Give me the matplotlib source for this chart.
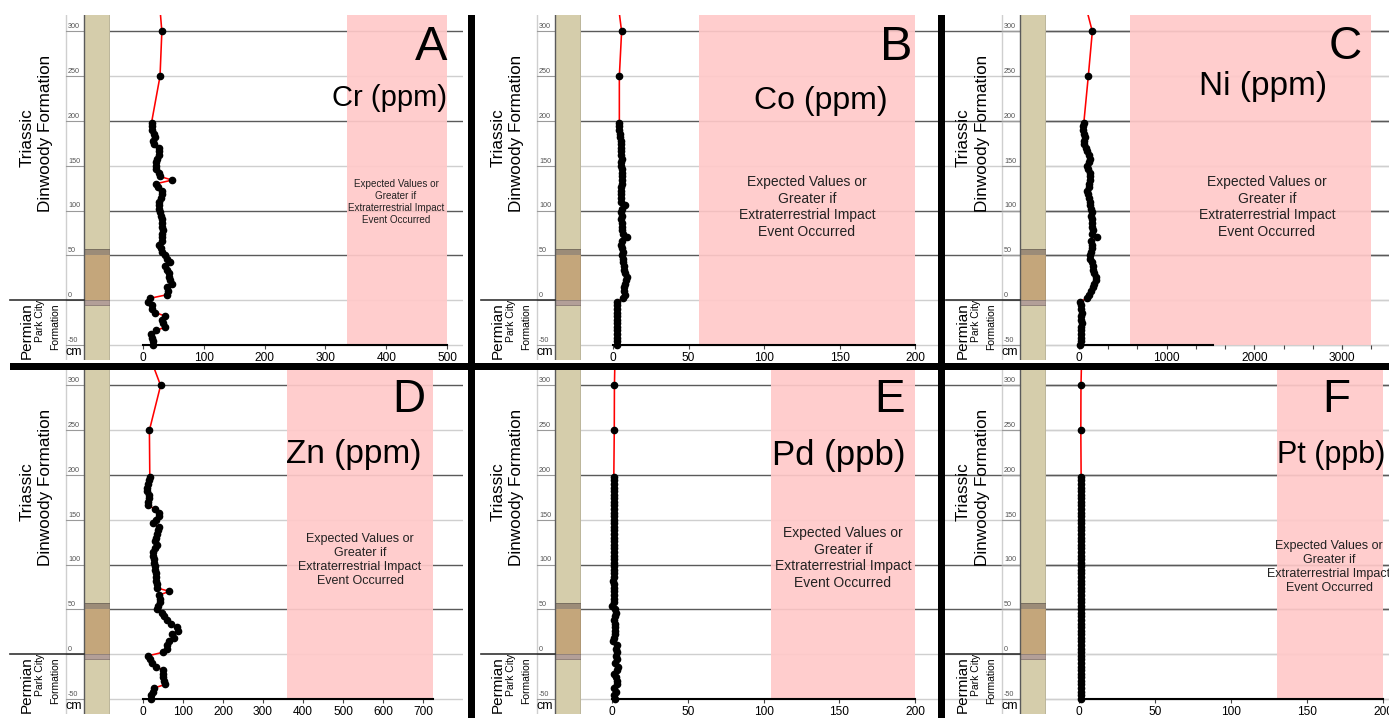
import matplotlib.pyplot as plt
from matplotlib.patches import Rectangle

plt.rcParams['font.family'] = ['Liberation Sans', 'DejaVu Sans']

# sample depths (cm above the Permian/Triassic contact)
depth_cm = [-50, -46, -42, -38, -34, -30, -26, -22, -18, -14, -10, -6, -2,
            2, 6, 10, 14, 18, 22, 26, 30, 34, 38, 42, 46, 50,
            54, 58, 62, 66, 70, 74, 78, 82, 86, 90, 94, 98, 102,
            106, 110, 114, 118, 122, 126, 130, 134, 138, 142, 146, 150, 154,
            158, 162, 166, 170, 174, 178, 182, 186, 190, 194, 198,
            250, 300, 350]

cr_ppm = [16, 17, 14, 13, 22, 37, 33, 31, 37, 20, 15, 14, 9,
          12, 40, 41, 40, 47, 45, 43, 42, 40, 37, 44, 39, 36,
          32, 29, 27, 31, 31, 32, 33, 32, 32, 31, 29, 28, 26,
          26, 27, 29, 31, 32, 24, 22, 48, 28, 27, 21, 21, 22,
          23, 26, 26, 27, 18, 17, 20, 18, 15, 14, 14,
          28, 31, 25]
co_ppm = [2.6, 2.5, 2.8, 2.7, 2.5, 2.7, 2.8, 2.6, 2.7, 2.5, 2.6, 2.4, 2.8,
          6.5, 8, 7, 7.5, 8, 8.5, 9, 8, 7.5, 7, 6.5, 6.5, 6,
          6.5, 6, 5.5, 6, 9, 6.5, 6, 5.8, 6, 5.5, 6, 5.5, 6,
          8, 5.5, 5, 5.2, 5.5, 5.5, 5.8, 6, 6, 6, 5.8, 5, 5.5,
          5.8, 5.5, 5.5, 5.2, 5, 5.2, 4.8, 4.5, 4.2, 4, 4.2,
          4.2, 5.7, 2]
ni_ppm = [15, 20, 25, 22, 28, 25, 30, 28, 25, 30, 28, 22, 15,
          90, 110, 140, 160, 175, 195, 190, 175, 160, 165, 150, 130, 125,
          140, 150, 145, 140, 205, 150, 155, 150, 145, 150, 140, 145, 140,
          130, 125, 115, 100, 90, 110, 115, 120, 125, 125, 100, 90, 110,
          120, 115, 95, 75, 60, 55, 70, 60, 50, 45, 55,
          106, 152, 20]
zn_ppm = [19, 20, 24, 28, 55, 53, 50, 50, 50, 33, 22, 18, 13,
          50, 60, 59, 65, 78, 72, 88, 85, 70, 60, 53, 47, 35,
          38, 43, 43, 41, 66, 34, 34, 32, 32, 32, 31, 30, 28,
          27, 25, 24, 30, 34, 30, 32, 34, 38, 41, 26, 33, 41,
          41, 30, 13, 13, 16, 14, 11, 9, 12, 15, 17,
          16, 44, 2]
pd_ppb = [1.8, 1.5, 2.5, 1.0, 3.5, 3.0, 2.5, 1.5, 3.0, 4.0, 2.0, 3.0, 2.5,
          3.0, 2.5, 3.0, 0.5, 1.5, 2.0, 1.8, 2.2, 2.0, 1.5, 2.0, 2.4, 1.8,
          0.3, 1.0, 1.2, 1.0, 1.4, 1.0, 1.2, 0.9, 1.3, 1.0, 1.2, 1.1, 1.3,
          1.0, 1.2, 1.1, 1.3, 1.0, 1.2, 1.4, 1.1, 1.0, 1.3, 1.2, 1.1, 1.0,
          1.2, 1.1, 1.3, 1.0, 1.2, 1.1, 1.0, 1.2, 1.3, 1.1, 1.2,
          1.5, 1.6, 2.2]
pt_ppb = [1.0, 1.3, 1.6, 1.2, 1.5, 1.3, 1.1, 1.4, 1.2, 1.5, 1.3, 1.2, 1.4,
          1.3, 1.5, 1.2, 1.4, 1.3, 1.6, 1.2, 1.4, 1.5, 1.3, 1.2, 1.4, 1.5,
          1.3, 1.2, 1.4, 1.3, 1.5, 1.2, 1.4, 1.3, 1.5, 1.2, 1.3, 1.4, 1.2,
          1.5, 1.3, 1.4, 1.2, 1.5, 1.3, 1.2, 1.4, 1.3, 1.5, 1.2, 1.4, 1.3,
          1.2, 1.4, 1.3, 1.5, 1.2, 1.4, 1.3, 1.2, 1.5, 1.3, 1.4,
          1.2, 1.3, 2.0]

letters = ['A', 'B', 'C', 'D', 'E', 'F']
elements = ['Cr (ppm)', 'Co (ppm)', 'Ni (ppm)', 'Zn (ppm)', 'Pd (ppb)', 'Pt (ppb)']
series = [cr_ppm, co_ppm, ni_ppm, zn_ppm, pd_ppb, pt_ppb]
# lower limit of values expected for an impact event, and axis end
impact_from = [335, 57, 580, 360, 105, 130]
axis_end = [500, 200, 3333, 725, 200, 200]
x_ticks = [[0, 100, 200, 300, 400, 500],
           [0, 50, 100, 150, 200],
           [0, 1000, 2000, 3000],
           [0, 100, 200, 300, 400, 500, 600, 700],
           [0, 50, 100, 150, 200],
           [0, 50, 100, 150, 200]]
depth_ticks = [-50, 0, 50, 100, 150, 200, 250, 300]
dark_grid = [50, 100, 200, 300]
expected = 'Expected Values or\nGreater if\nExtraterrestrial Impact\nEvent Occurred'

W, H = 1389, 718
YLIM = (-67, 318.4)

fig = plt.figure(figsize=(W / 100, H / 100), dpi=100)


def box(x0, y0, x1, y1):
    return [x0 / W, 1 - y1 / H, (x1 - x0) / W, (y1 - y0) / H]


def ftext(x, y, s, **kw):
    fig.text(x / W, 1 - y / H, s, **kw)


# layout of each panel in pixels: offset, x of value 0, px per unit, right edge
layout = [
    dict(ox=0, oy=0, x0=143, ppu=0.608, right=463, spine=500,
         let=(447, 47, 35), lab=(447, 98, 21), txt=(396, 202, 7.1)),
    dict(ox=471, oy=0, x0=613, ppu=1.51, right=935, spine=200,
         let=(913, 47, 35), lab=(888, 101, 23), txt=(807, 207, 10)),
    dict(ox=936, oy=0, x0=1079, ppu=0.08767, right=1389, spine=1530,
         let=(1362, 47, 33), lab=(1327, 87, 24), txt=(1267, 207, 10)),
    dict(ox=0, oy=354, x0=143, ppu=0.4, right=463, spine=725,
         let=(425, 46, 33), lab=(422, 101, 24), txt=(360, 206, 9)),
    dict(ox=471, oy=354, x0=612, ppu=1.515, right=935, spine=200,
         let=(905, 46, 33), lab=(905, 101, 25), txt=(843, 204, 10)),
    dict(ox=936, oy=354, x0=1079, ppu=1.52, right=1389, spine=200,
         let=(1350, 46, 33), lab=(1385, 101, 22), txt=(1329, 213, 9)),
]

for i, p in enumerate(layout):
    ox, oy = p['ox'], p['oy']

    # depth scale and stratigraphic column
    pan = fig.add_axes(box(ox, oy + 15, ox + 110, oy + 360))
    pan.set_xlim(0, 110)
    pan.set_ylim(*YLIM)
    pan.axis('off')
    pan.plot([66, 66], YLIM, color='#cfcfcf', lw=1)
    for d in depth_ticks:
        pan.plot([66, 84], [d, d], color='#9a9a9a', lw=0.8)
        pan.text(68, d + 1.2, str(d), fontsize=5.2, color='#555555', ha='left', va='bottom')
    pan.add_patch(Rectangle((84, YLIM[0]), 26, YLIM[1] - YLIM[0], fc='#d5cdab', ec='none'))
    pan.add_patch(Rectangle((84, 50), 26, 6.5, fc='#9c8c78', ec='#6f6558', lw=0.6))
    pan.add_patch(Rectangle((84, 0), 26, 50, fc='#c4a67b', ec='none'))
    pan.add_patch(Rectangle((84, -5.5), 26, 5.5, fc='#b39f98', ec='#8a7a74', lw=0.6))
    pan.plot([84, 84], YLIM, color='#5a5a5a', lw=1)
    pan.plot([110, 110], YLIM, color='#5a5a5a', lw=1)
    pan.plot([10, 84], [0, 0], color='#333333', lw=1.2)

    ftext(ox + 27, oy + 138, 'Triassic', rotation=90, ha='center', va='center', fontsize=12.3)
    ftext(ox + 46, oy + 133.5, 'Dinwoody Formation', rotation=90, ha='center', va='center', fontsize=12.3)
    ftext(ox + 27, oy + 331, 'Permian', rotation=90, ha='center', va='center', fontsize=11)
    ftext(ox + 40, oy + 321, 'Park City', rotation=90, ha='center', va='center', fontsize=7.5)
    ftext(ox + 55, oy + 327, 'Formation', rotation=90, ha='center', va='center', fontsize=7.5)
    ftext(ox + 74, oy + 352, 'cm', ha='center', va='center', fontsize=9)

    # data panel
    ax = fig.add_axes(box(ox + 110, oy + 15, ox + p['right'], oy + 360))
    ax.set_ylim(*YLIM)
    ax.set_xlim((ox + 110 - p['x0']) / p['ppu'], (ox + p['right'] - p['x0']) / p['ppu'])
    ax.patch.set_alpha(0)
    for d in depth_ticks:
        ax.axhline(d, color='#5a5a5a' if d in dark_grid else '#cfcfcf', lw=1, zorder=1)
    ax.add_patch(Rectangle((impact_from[i], -50), axis_end[i] - impact_from[i], YLIM[1] + 50,
                           fc='#ffc9c9', ec='none', alpha=0.92, zorder=2))
    ax.plot(series[i], depth_cm, color='red', lw=1.15, marker='o', ms=4.5,
            mfc='black', mec='black', zorder=4)
    for s in ['top', 'right', 'left']:
        ax.spines[s].set_visible(False)
    ax.spines['bottom'].set_position(('data', -50))
    ax.spines['bottom'].set_bounds(0, p['spine'])
    ax.spines['bottom'].set_linewidth(1.5)
    ax.spines['bottom'].set_zorder(3)
    ax.set_xticks(x_ticks[i])
    ax.set_xticklabels([str(t) for t in x_ticks[i]])
    if i == 2:
        ax.set_xticks([axis_end[i] * k / 10 for k in range(11)], minor=True)
        ax.tick_params(axis='x', which='minor', length=3, width=0.8, color='#444444')
    ax.tick_params(axis='x', length=3, width=0.8, color='#444444', labelsize=8.6, pad=2)
    ax.set_yticks([])

    lx, ly, lfs = p['let']
    ftext(lx, oy + ly, letters[i], ha='right', va='center', fontsize=lfs)
    bx, by, bfs = p['lab']
    ftext(bx, oy + by, elements[i], ha='right', va='center', fontsize=bfs)
    tx, ty, tfs = p['txt']
    ftext(tx, oy + ty, expected, ha='center', va='center', fontsize=tfs,
          linespacing=1.25, color='#222222')

# thick separators between panels
for x0, y0, x1, y1 in [(468, 15, 475, 718), (938, 15, 945, 718), (10, 363, 1389, 370)]:
    fig.add_artist(Rectangle((x0 / W, 1 - y1 / H), (x1 - x0) / W, (y1 - y0) / H,
                             transform=fig.transFigure, fc='black', ec='none', zorder=10))

fig.savefig('out.png', dpi=100)
